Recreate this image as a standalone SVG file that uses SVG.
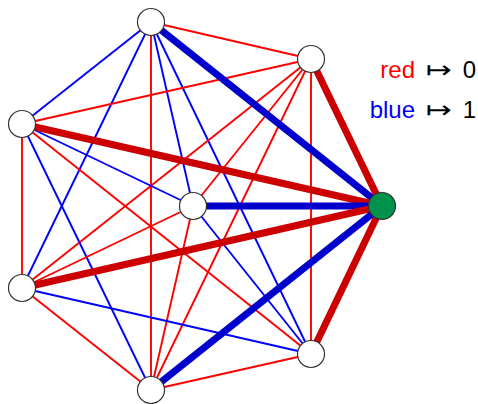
<svg xmlns="http://www.w3.org/2000/svg" width="478" height="404" viewBox="0 0 478 404">
<style>
.r{stroke:#ff0000;stroke-width:1.9;fill:none}
.b{stroke:#0000ff;stroke-width:1.9;fill:none}
.R{stroke:#cc0000;stroke-width:7;fill:none}
.B{stroke:#0000cc;stroke-width:7;fill:none}
.n{fill:#ffffff;stroke:#333333;stroke-width:1.2}
.g{fill:#00924a;stroke:#333333;stroke-width:1.2}
text{font-family:"Liberation Sans","DejaVu Sans",sans-serif;font-size:24px}
.m{font-family:"DejaVu Sans",sans-serif;font-size:24px}
</style>
<rect width="478" height="404" fill="#ffffff"/>
<g id="connectors">
<line class="r" x1="151" y1="22" x2="311" y2="59"/>
<line class="b" x1="151" y1="22" x2="22" y2="124"/>
<line class="b" x1="151" y1="22" x2="193" y2="206"/>
<line class="b" x1="151" y1="22" x2="22" y2="288"/>
<line class="b" x1="151" y1="22" x2="311" y2="354"/>
<line class="r" x1="151" y1="22" x2="151" y2="390"/>
<line class="r" x1="311" y1="59" x2="22" y2="124"/>
<line class="r" x1="311" y1="59" x2="193" y2="206"/>
<line class="r" x1="311" y1="59" x2="22" y2="288"/>
<line class="r" x1="311" y1="59" x2="311" y2="354"/>
<line class="r" x1="311" y1="59" x2="151" y2="390"/>
<line class="b" x1="22" y1="124" x2="193" y2="206"/>
<line class="r" x1="22" y1="124" x2="22" y2="288"/>
<line class="r" x1="22" y1="124" x2="311" y2="354"/>
<line class="b" x1="22" y1="124" x2="151" y2="390"/>
<line class="r" x1="193" y1="206" x2="22" y2="288"/>
<line class="b" x1="193" y1="206" x2="311" y2="354"/>
<line class="r" x1="193" y1="206" x2="151" y2="390"/>
<line class="b" x1="22" y1="288" x2="311" y2="354"/>
<line class="r" x1="22" y1="288" x2="151" y2="390"/>
<line class="r" x1="311" y1="354" x2="151" y2="390"/>
<line class="B" x1="382" y1="206" x2="151" y2="22"/>
<line class="R" x1="382" y1="206" x2="311" y2="59"/>
<line class="R" x1="382" y1="206" x2="22" y2="124"/>
<line class="B" x1="382" y1="206" x2="193" y2="206"/>
<line class="R" x1="382" y1="206" x2="22" y2="288"/>
<line class="R" x1="382" y1="206" x2="311" y2="354"/>
<line class="B" x1="382" y1="206" x2="151" y2="390"/>
</g>
<g id="nA"><circle class="n" cx="151" cy="22" r="13.5"/></g>
<g id="nB"><circle class="n" cx="311" cy="59" r="13.5"/></g>
<g id="nC"><circle class="n" cx="22" cy="124" r="13.5"/></g>
<g id="nD"><circle class="n" cx="193" cy="206" r="13.5"/></g>
<g id="nE"><circle class="g" cx="382" cy="206" r="13.5"/></g>
<g id="nF"><circle class="n" cx="22" cy="288" r="13.5"/></g>
<g id="nG"><circle class="n" cx="311" cy="354" r="13.5"/></g>
<g id="nH"><circle class="n" cx="151" cy="390" r="13.5"/></g>
<g id="legend">
<text x="415" y="78" text-anchor="end" fill="#ff0000">red</text>
<text class="m" x="426" y="78" fill="#000000" textLength="26" lengthAdjust="spacingAndGlyphs">↦</text>
<text x="476" y="78" text-anchor="end" fill="#000000">0</text>
<text x="415" y="118" text-anchor="end" fill="#0000ff">blue</text>
<text class="m" x="426" y="118" fill="#000000" textLength="26" lengthAdjust="spacingAndGlyphs">↦</text>
<text x="476" y="118" text-anchor="end" fill="#000000">1</text>
</g>
</svg>
